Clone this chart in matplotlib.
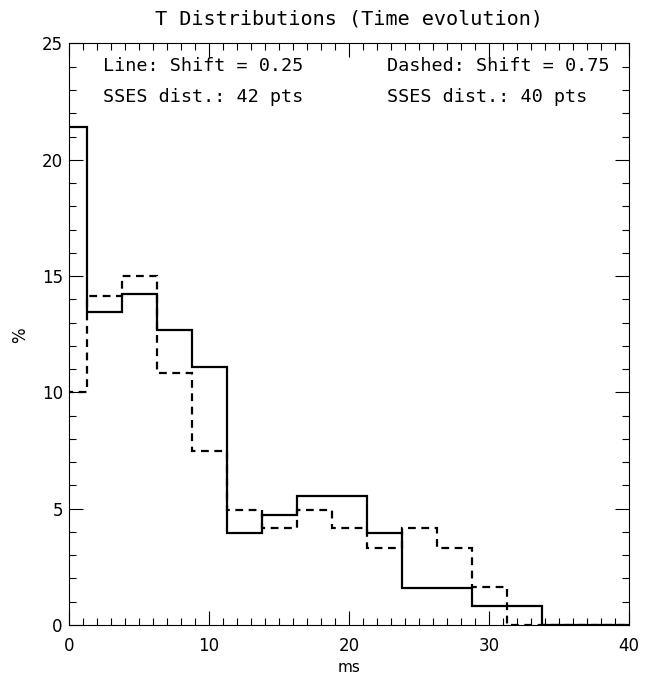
import numpy as np
import matplotlib.pyplot as plt
from matplotlib.ticker import MultipleLocator

plt.rcParams['font.family'] = ['DejaVu Sans Mono', 'DejaVu Sans']

# bin centres every 2.5 ms (first bin centred on 0)
bin_centers = np.arange(0, 42.5, 2.5)
# percentages
solid_pct = [21.4, 13.45, 14.25, 12.7, 11.1, 3.95, 4.75, 5.55, 5.55,
             3.95, 1.6, 1.6, 0.8, 0.8, 0.0, 0.0, 0.0]
dashed_pct = [10.0, 14.15, 15.0, 10.85, 7.5, 4.95, 4.15, 4.95, 4.15,
              3.3, 4.15, 3.3, 1.65, 0.0, 0.0, 0.0, 0.0]

title = 'T Distributions (Time evolution)'
notes_left = ['Line: Shift = 0.25', 'SSES dist.: 42 pts']
notes_right = ['Dashed: Shift = 0.75', 'SSES dist.: 40 pts']

edges = np.append(bin_centers - 1.25, bin_centers[-1] + 1.25)

fig = plt.figure(figsize=(6.65, 6.77), dpi=100)
ax = fig.add_axes([0.1038, 0.0768, 0.8421, 0.8590])

ax.stairs(solid_pct, edges, baseline=None, color='k', lw=1.6)
ax.stairs(dashed_pct, edges, baseline=None, color='k', lw=1.6,
          linestyle=(0, (3.5, 2.5)))

ax.set_xlim(0, 40)
ax.set_ylim(0, 25)
ax.xaxis.set_major_locator(MultipleLocator(10))
ax.xaxis.set_minor_locator(MultipleLocator(1))
ax.yaxis.set_major_locator(MultipleLocator(5))
ax.yaxis.set_minor_locator(MultipleLocator(1))
ax.tick_params(which='both', direction='in', top=True, right=True,
               labelsize=12, width=0.8)
ax.tick_params(which='major', length=10)
ax.tick_params(which='minor', length=5)
ax.tick_params(axis='x', which='major', pad=8.5)
ax.tick_params(axis='y', which='major', pad=4.5)
for lab in ax.get_xticklabels() + ax.get_yticklabels():
    lab.set_family('DejaVu Sans')
for s in ax.spines.values():
    s.set_linewidth(0.8)

ax.set_title(title, fontsize=14.5, pad=14)
ax.set_xlabel('ms', fontsize=11, labelpad=4, family='DejaVu Sans')
fig.text(20 / 665, 1 - 335 / 677, '%', fontsize=12, rotation=90,
         ha='center', va='center', family='DejaVu Sans')

for i, t in enumerate(notes_left):
    ax.text(2.45, 23.81 - i * 1.34, t, fontsize=13.3, va='baseline', ha='left')
for i, t in enumerate(notes_right):
    ax.text(22.7, 23.81 - i * 1.34, t, fontsize=13.3, va='baseline', ha='left')

fig.savefig('out.png', dpi=100)
